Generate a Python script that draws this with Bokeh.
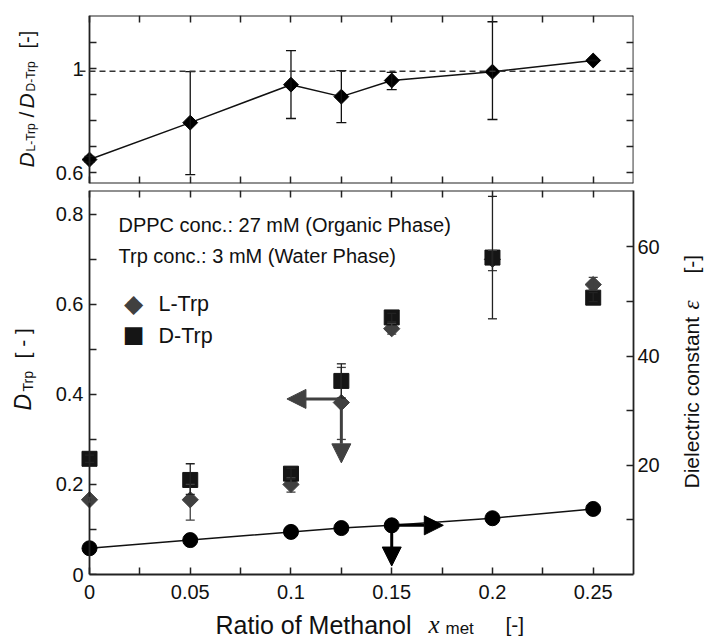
import math
from bokeh.plotting import figure
from bokeh.models import (Range1d, LinearAxis, FixedTicker, Whisker, TeeHead, ColumnDataSource,
                          Arrow, NormalHead, Label, Span)
from bokeh.layouts import column, row
from bokeh.embed import file_html
from bokeh.resources import INLINE

# ---------------- data ----------------
x_met = [0, 0.05, 0.1, 0.125, 0.15, 0.2, 0.25]

ratio = [0.650, 0.792, 0.938, 0.892, 0.954, 0.988, 1.031]
ratio_hi = [0.662, 0.988, 1.069, 0.992, 0.985, 1.180, 1.031]
ratio_lo = [0.640, 0.592, 0.808, 0.792, 0.919, 0.804, 1.031]
ratio_ref = 0.99

d_l = [0.166, 0.166, 0.200, 0.382, 0.546, 0.700, 0.644]
d_l_hi = [0.171, 0.200, 0.215, 0.460, 0.558, 0.720, 0.660]
d_l_lo = [0.161, 0.121, 0.183, 0.300, 0.534, 0.675, 0.632]

d_d = [0.257, 0.210, 0.224, 0.430, 0.571, 0.704, 0.615]
d_d_hi = [0.265, 0.246, 0.236, 0.468, 0.580, 0.840, 0.626]
d_d_lo = [0.249, 0.178, 0.212, 0.392, 0.562, 0.568, 0.606]

eps = [4.8, 6.3, 7.8, 8.5, 9.0, 10.3, 12.0]

series_names = ["L-Trp", "D-Trp"]

x_ticks = [0, 0.025, 0.05, 0.075, 0.1, 0.125, 0.15, 0.175, 0.2, 0.225, 0.25]
x_labels = {0: "0", 0.05: "0.05", 0.1: "0.1", 0.15: "0.15", 0.2: "0.2", 0.25: "0.25"}
top_y_ticks = [0.6, 0.7, 0.8, 0.9, 1.0, 1.1]
top_y_labels = {0.6: "0.6", 1.0: "1"}
bot_y_ticks = [0, 0.1, 0.2, 0.3, 0.4, 0.5, 0.6, 0.7, 0.8]
bot_y_labels = {0: "0", 0.2: "0.2", 0.4: "0.4", 0.6: "0.6", 0.8: "0.8"}
eps_ticks = [10, 20, 30, 40, 50, 60]
eps_labels = {20: "20", 40: "40", 60: "60"}

# ---------------- style / geometry ----------------
SANS = "Liberation Sans"
SERIF = "Liberation Serif"
INK = "#111111"
GRAY = "#404040"
DARK = "#151515"
FRAME = "#222222"

X_END = 0.27
TOP_YR = (0.558, 1.204)
BOT_YR = (0, 0.853)
EPS_YR = (0, 70.3)

W, H = 704, 644
LEFT_W, RIGHT_W = 50, 40
MAIN_W = W - LEFT_W - RIGHT_W
TOP_H, BOT_H = 187, 425
XT_H = H - TOP_H - BOT_H
X0_PX, FR = 89, 633        # page px of x=0 (visible left edge) and of the right edge
FL = 79                    # drawing area starts a bit left of x=0 so edge markers are whole
PPU = (FR - X0_PX) / X_END
XR = (-(X0_PX - FL) / PPU, X_END)
MBL, MBR = FL - LEFT_W, LEFT_W + MAIN_W - FR
BASE_FIX = 8               # baseline correction for horizontal labels

def px(p):
    return (p - X0_PX) / PPU

def by(p):
    return BOT_YR[0] + (574 - p) / 384 * (BOT_YR[1] - BOT_YR[0])


def style_axis(ax, ticks, labels, show_labels=True, line=True, ticks_in=7):
    ax.ticker = FixedTicker(ticks=ticks, minor_ticks=[])
    ax.major_label_overrides = {t: (labels.get(t, "") if show_labels else "") for t in ticks}
    ax.major_tick_in = ticks_in
    ax.major_tick_out = 0
    ax.minor_tick_in = 0
    ax.minor_tick_out = 0
    ax.major_tick_line_color = FRAME if ticks_in else None
    ax.major_tick_line_width = 1.5
    ax.axis_line_color = FRAME if line else None
    ax.axis_line_width = 1.8
    ax.major_label_text_font = SANS
    ax.major_label_text_font_size = "20px"
    ax.major_label_text_color = INK


def make_fig(height, yr, mb_top, mb_bottom):
    p = figure(width=MAIN_W, height=height, x_range=Range1d(*XR), y_range=Range1d(*yr),
               output_backend="svg", toolbar_location=None, title=None,
               x_axis_location=None, y_axis_location=None,
               min_border_left=MBL, min_border_right=MBR,
               min_border_top=mb_top, min_border_bottom=mb_bottom)
    p.xgrid.visible = False
    p.ygrid.visible = False
    p.outline_line_color = None
    p.background_fill_color = "white"
    p.border_fill_color = "white"
    return p


def text_fig(w, h, xr, mbl=0, mbr=0):
    f = figure(width=w, height=h, x_range=Range1d(*xr), y_range=Range1d(0, h),
               output_backend="svg", toolbar_location=None, title=None,
               x_axis_location=None, y_axis_location=None,
               min_border_left=mbl, min_border_right=mbr, min_border_top=0, min_border_bottom=0)
    f.xgrid.visible = False
    f.ygrid.visible = False
    f.outline_line_color = None
    f.background_fill_color = "white"
    f.border_fill_color = "white"
    return f


def add_label(p, text, x, y, size, font=SANS, style="normal", angle=0.0, color=INK,
              align="left", baseline="alphabetic"):
    p.add_layout(Label(x=x, y=y, text=text, angle=angle, text_font=font,
                       text_font_style=style, text_font_size=size, text_color=color,
                       text_align=align, text_baseline=baseline))

A = math.pi / 2

def frame_axes(p, yr, y_ticks, y_labels, right_axis=None):
    # tick labels of the left scale (axis sits at the drawing-area edge, labels only)
    ax = LinearAxis()
    style_axis(ax, y_ticks, y_labels, line=False, ticks_in=0)
    ax.major_label_standoff = -4
    p.add_layout(ax, "left")
    # visible left edge at x = 0 with inward ticks
    ax = LinearAxis(fixed_location=0)
    style_axis(ax, y_ticks, y_labels, show_labels=False)
    p.add_layout(ax, "left")
    # right edge
    if right_axis is None:
        ax = LinearAxis(fixed_location=X_END)
        style_axis(ax, y_ticks, y_labels, show_labels=False)
        p.add_layout(ax, "right")
    else:
        p.add_layout(right_axis, "right")
    # top edge
    ax = LinearAxis(fixed_location=yr[1], bounds=(0, X_END))
    style_axis(ax, x_ticks, x_labels, show_labels=False)
    p.add_layout(ax, "above")

# ---------------- top panel ----------------
top = make_fig(TOP_H, TOP_YR, 15, TOP_H - 183)
frame_axes(top, TOP_YR, top_y_ticks, top_y_labels)
ax = LinearAxis(fixed_location=TOP_YR[0], bounds=(0, X_END))
style_axis(ax, x_ticks, x_labels, show_labels=False)
top.add_layout(ax, "below")

top.add_layout(Span(location=ratio_ref, dimension="width", line_color="#333333",
                    line_width=1.5, line_dash="6 4"))

src_r = ColumnDataSource(dict(x=x_met, y=ratio, hi=ratio_hi, lo=ratio_lo))
top.add_layout(Whisker(source=src_r, base="x", upper="hi", lower="lo",
                       line_color=INK, line_width=1.3, level="glyph",
                       upper_head=TeeHead(size=10, line_color=INK, line_width=1.3),
                       lower_head=TeeHead(size=10, line_color=INK, line_width=1.3)))
top.line("x", "y", source=src_r, line_color=INK, line_width=1.5)
top.scatter("x", "y", source=src_r, marker="square", angle=math.pi / 4, size=10.5,
            fill_color="black", line_color="black")

# ---------------- bottom panel ----------------
bot_top = TOP_H
bot = make_fig(BOT_H, BOT_YR, 190 - bot_top, bot_top + BOT_H - 574)
bot.extra_y_ranges = {"eps": Range1d(*EPS_YR)}

eps_axis = LinearAxis(y_range_name="eps")
style_axis(eps_axis, eps_ticks, eps_labels)
eps_axis.major_label_standoff = 4
frame_axes(bot, BOT_YR, bot_y_ticks, bot_y_labels, right_axis=eps_axis)

ax = LinearAxis(bounds=(0, X_END))
style_axis(ax, x_ticks, x_labels)
ax.major_label_standoff = 10
bot.add_layout(ax, "below")

src_b = ColumnDataSource(dict(x=x_met, l=d_l, lhi=d_l_hi, llo=d_l_lo,
                              d=d_d, dhi=d_d_hi, dlo=d_d_lo, e=eps))

bot.scatter("x", "l", source=src_b, marker="square", angle=math.pi / 4, size=11.5,
            fill_color=GRAY, line_color=GRAY)
bot.scatter("x", "d", source=src_b, marker="square", size=15,
            fill_color=DARK, line_color=DARK)
bot.add_layout(Whisker(source=src_b, base="x", upper="lhi", lower="llo",
                       line_color=GRAY, line_width=1.3, level="annotation",
                       upper_head=TeeHead(size=9, line_color=GRAY, line_width=1.3),
                       lower_head=TeeHead(size=9, line_color=GRAY, line_width=1.3)))
bot.add_layout(Whisker(source=src_b, base="x", upper="dhi", lower="dlo",
                       line_color="#222222", line_width=1.3, level="annotation",
                       upper_head=TeeHead(size=9, line_color="#222222", line_width=1.3),
                       lower_head=TeeHead(size=9, line_color="#222222", line_width=1.3)))

bot.line("x", "e", source=src_b, y_range_name="eps", line_color=INK, line_width=1.5)
bot.scatter("x", "e", source=src_b, y_range_name="eps", marker="circle", size=15,
            fill_color="black", line_color="black")

# arrows: gray ones point from the L-Trp point (x=0.125) toward the left axis
i = 3
bot.add_layout(Arrow(x_start=x_met[i], y_start=0.39, x_end=0.098, y_end=0.39,
                     line_color=GRAY, line_width=3,
                     end=NormalHead(size=19, fill_color=GRAY, line_color=GRAY, line_width=1)))
bot.add_layout(Arrow(x_start=x_met[i], y_start=d_l[i], x_end=x_met[i], y_end=0.248,
                     line_color=GRAY, line_width=3,
                     end=NormalHead(size=19, fill_color=GRAY, line_color=GRAY, line_width=1)))
# black ones point from the dielectric point (x=0.15) toward the right axis
j = 4
bot.add_layout(Arrow(x_start=x_met[j], y_start=eps[j], x_end=0.1756, y_end=eps[j],
                     y_range_name="eps", line_color="black", line_width=3,
                     end=NormalHead(size=19, fill_color="black", line_color="black", line_width=1)))
bot.add_layout(Arrow(x_start=x_met[j], y_start=eps[j], x_end=x_met[j], y_end=1.55,
                     y_range_name="eps", line_color="black", line_width=3,
                     end=NormalHead(size=19, fill_color="black", line_color="black", line_width=1)))

# legend (key symbols as text glyphs so the diamond keeps its orientation)
add_label(bot, "\u25c6", px(133), by(303), "25px", font="DejaVu Sans", color=GRAY,
          align="center", baseline="middle")
add_label(bot, series_names[0], px(158), by(311 - BASE_FIX), "21.5px")
add_label(bot, "\u25a0", px(133), by(333), "23px", font="DejaVu Sans", color=DARK,
          align="center", baseline="middle")
add_label(bot, series_names[1], px(158), by(343 - BASE_FIX), "21.5px")

add_label(bot, "DPPC conc.: 27 mM (Organic Phase)", px(118), by(232 - BASE_FIX), "20px")
add_label(bot, "Trp conc.: 3 mM (Water Phase)", px(118), by(263 - BASE_FIX), "20px")

# ---------------- title strips ----------------
# x-axis title strip: same drawing-area columns as the panels, x data = page px
xt = text_fig(MAIN_W, XT_H, (FL, FR), MBL, MBR)
def xy(p): return H - p + BASE_FIX
add_label(xt, "Ratio of Methanol", 215, xy(632), "25px")
add_label(xt, "x", 428, xy(632), "25px", font=SERIF, style="italic")
add_label(xt, "met", 445, xy(636), "17px")
add_label(xt, "[-]", 505, xy(632), "21px")

# left strip: both y titles (x data = page px)
lf = text_fig(LEFT_W, H, (0, LEFT_W))
def ly(p): return H - p
add_label(lf, "D", 26, ly(167), "21px", style="italic", angle=A)
add_label(lf, "L-Trp", 30, ly(151), "12px", angle=A)
add_label(lf, "/", 26, ly(117), "21px", angle=A)
add_label(lf, "D", 26, ly(108), "21px", style="italic", angle=A)
add_label(lf, "D-Trp", 30, ly(91), "12px", angle=A)
add_label(lf, "[-]", 26, ly(48), "20px", angle=A)

add_label(lf, "D", 22, ly(410), "23px", style="italic", angle=A)
add_label(lf, "Trp", 27, ly(391), "14px", angle=A)
add_label(lf, "[ - ]", 22, ly(358), "21px", angle=A)

# right strip: dielectric constant title (x data = page px)
x0r = LEFT_W + MAIN_W
rf = text_fig(RIGHT_W, H, (x0r, W))
add_label(rf, "Dielectric constant", 691, ly(488), "21px", angle=A)
add_label(rf, "\u03b5", 691, ly(309), "23px", font=SERIF, style="italic", angle=A)
add_label(rf, "[-]", 691, ly(273), "21px", angle=A)

layout = row(lf, column(top, bot, xt, spacing=0), rf, spacing=0)
open("out.html", "w").write(file_html(layout, INLINE))
